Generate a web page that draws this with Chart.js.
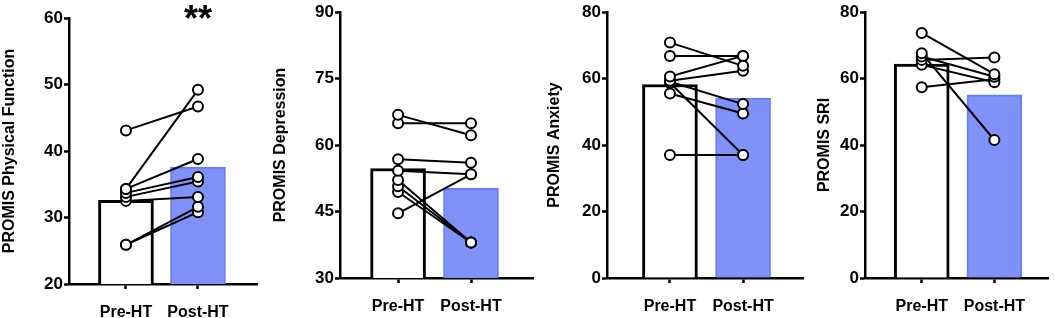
<!DOCTYPE html>
<html>
<head>
<meta charset="utf-8">
<script src="https://cdn.jsdelivr.net/npm/chart.js@4.4.1/dist/chart.umd.min.js"></script>
<style>
  body { margin: 0; background: #fff; }
  #wrap { position: relative; width: 1055px; height: 318px; overflow: hidden; }
  canvas { position: absolute; top: 0; }
</style>
</head>
<body>
<div id="wrap">
  <canvas id="c1" style="left:0px" width="270" height="318"></canvas>
  <canvas id="c2" style="left:271px" width="269" height="318"></canvas>
  <canvas id="c3" style="left:545px" width="267" height="318"></canvas>
  <canvas id="c4" style="left:815px" width="240" height="318"></canvas>
</div>
<script>
// groupes
const groups = ['Pre-HT', 'Post-HT'];

// PROMIS Physical Function
const physPre = [43.1, 34.3, 34.3, 33.7, 33.1, 32.5, 25.9, 25.9];
const physPost = [46.7, 49.2, 38.8, 36.1, 35.4, 33.1, 31.6, 30.8];
const physMeans = [32.6, 37.6];

// PROMIS Depression
const depPre = [66.8, 64.9, 56.8, 54.2, 52.1, 50.7, 49.4, 44.6];
const depPost = [62.2, 64.9, 56.0, 53.4, 38.0, 38.0, 38.0, 53.4];
const depMeans = [54.7, 50.2];

// PROMIS Anxiety
const anxPre = [70.8, 66.8, 60.6, 59.3, 59.0, 58.7, 55.5, 37.0];
const anxPost = [63.8, 66.8, 66.8, 62.3, 52.3, 37.0, 49.5, 37.0];
const anxMeans = [58.2, 54.1];

// PROMIS SRI
const sriPre = [73.7, 67.6, 66.6, 65.6, 64.1, 57.4];
const sriPost = [61.3, 41.5, 60.5, 66.3, 58.9, 59.8];
const sriMeans = [64.3, 55.1];

Chart.defaults.font.family = '"Liberation Sans", Arial, Helvetica, sans-serif';
Chart.defaults.color = '#000';

const corBarra = 'rgba(128,146,250,1)';
const corBorda = 'rgba(105,125,245,1)';

// marque "**" au-dessus de Post-HT
const etoiles = {
  id: 'etoiles',
  afterDraw(chart, args, opts) {
    if (!opts.text) return;
    const ctx = chart.ctx;
    const x = chart.scales.x.getPixelForValue(2);
    ctx.save();
    ctx.font = 'bold 36px "Liberation Sans", Arial, sans-serif';
    ctx.fillStyle = '#000';
    ctx.textAlign = 'center';
    ctx.textBaseline = 'alphabetic';
    ctx.fillText(opts.text, x, 31);
    ctx.restore();
  }
};

function criarPainel(id, p) {
  const linhas = p.pre.map((v, i) => ({
    type: 'line',
    data: [{ x: 1, y: v }, { x: 2, y: p.post[i] }],
    borderColor: '#000',
    borderWidth: 2,
    pointRadius: 5,
    pointBorderWidth: 2,
    pointBackgroundColor: '#fff',
    pointBorderColor: '#000',
    order: 1
  }));

  return new Chart(document.getElementById(id), {
    type: 'bar',
    data: {
      datasets: [{
        data: p.means.map((m, i) => ({ x: i + 1, y: m })),
        backgroundColor: ['#fff', corBarra],
        borderColor: ['#000', corBorda],
        borderWidth: [3, 2],
        borderSkipped: 'start',
        barThickness: 55,
        order: 2
      }, ...linhas]
    },
    options: {
      responsive: false,
      animation: false,
      layout: { padding: { top: p.top, right: p.right, left: 0, bottom: 0 } },
      scales: {
        x: {
          type: 'linear',
          offset: false,
          min: p.xmin,
          max: p.xmax,
          afterBuildTicks: s => { s.ticks = [{ value: 1 }, { value: 2 }]; },
          afterFit: s => { s.height = p.xh; },
          ticks: {
            callback: v => groups[v - 1],
            font: { size: 16, weight: 'bold' },
            padding: 14,
            maxRotation: 0,
            autoSkip: false
          },
          grid: { offset: false, drawOnChartArea: false, drawTicks: true, tickLength: 5, tickColor: '#000', tickWidth: 2.5 },
          border: { color: '#000', width: 2.5 }
        },
        y: {
          min: p.ymin,
          max: p.ymax,
          afterFit: s => { s.width = p.yw; },
          ticks: {
            stepSize: p.step,
            font: { size: 17, weight: 'bold' },
            padding: 1
          },
          title: {
            display: true,
            text: p.title,
            font: { size: 16, weight: 'bold' },
            padding: 0
          },
          grid: { drawOnChartArea: false, drawTicks: true, tickLength: 5, tickColor: '#000', tickWidth: 2.5 },
          border: { color: '#000', width: 2.5 }
        }
      },
      plugins: {
        legend: { display: false },
        tooltip: { enabled: false },
        etoiles: { text: p.mark }
      }
    },
    plugins: [etoiles]
  });
}

criarPainel('c1', { pre: physPre, post: physPost, means: physMeans, title: 'PROMIS Physical Function',
  ymin: 20, ymax: 60, step: 10, xmin: 0.209, xmax: 2.82, top: 18, right: 13, xh: 34, yw: 69, mark: '**' });
criarPainel('c2', { pre: depPre, post: depPost, means: depMeans, title: 'PROMIS Depression',
  ymin: 30, ymax: 90, step: 15, xmin: 0.204, xmax: 2.85, top: 12, right: 7, xh: 40, yw: 69 });
criarPainel('c3', { pre: anxPre, post: anxPost, means: anxMeans, title: 'PROMIS Anxiety',
  ymin: 0, ymax: 80, step: 20, xmin: 0.139, xmax: 2.82, top: 12, right: 9, xh: 40, yw: 62 });
criarPainel('c4', { pre: sriPre, post: sriPost, means: sriMeans, title: 'PROMIS SRI',
  ymin: 0, ymax: 80, step: 20, xmin: 0.219, xmax: 2.738, top: 12, right: 6, xh: 40, yw: 50 });
</script>
</body>
</html>
